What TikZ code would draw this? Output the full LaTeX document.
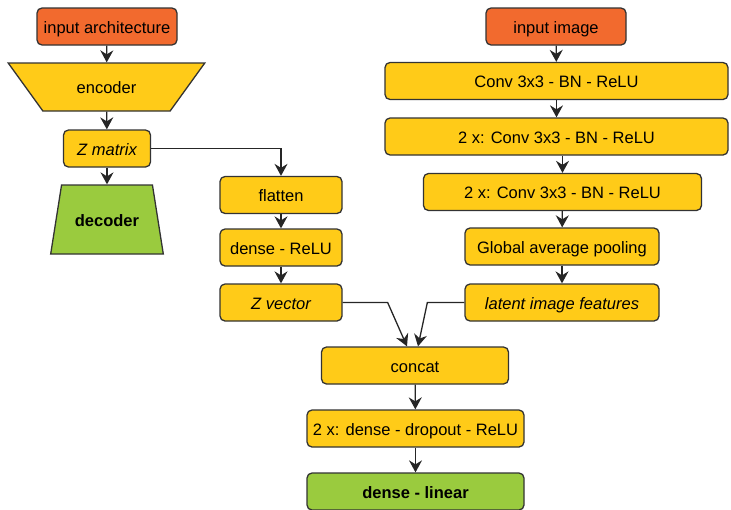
\documentclass[tikz,border=0pt]{standalone}
\usepackage{fontspec}
\setmainfont{Liberation Sans}
\usepackage{tikz}
\usetikzlibrary{shapes.geometric,arrows.meta}
\definecolor{boxorange}{RGB}{242,106,46}
\definecolor{boxyellow}{RGB}{255,203,24}
\definecolor{boxgreen}{RGB}{154,203,62}
\definecolor{boxline}{RGB}{51,51,51}
\tikzstyle{block} = [draw=boxline, line width=1.3pt, rounded corners=5pt, fill=boxyellow, minimum height=37pt, inner sep=2pt, text centered, text height=15pt, text depth=1.8pt]
\tikzstyle{inblock} = [block, fill=boxorange]
\tikzstyle{outblock} = [block, fill=boxgreen, execute at begin node=\bfseries]
\tikzstyle{trap} = [draw=boxline, line width=1.3pt, fill=boxyellow, trapezium, trapezium stretches=true, inner sep=2pt, text height=15pt, text depth=1.8pt]
\tikzstyle{link} = [draw=black!85, line width=1.3pt, -{Stealth[length=12pt,width=13pt,inset=4pt]}]

\begin{document}
\begin{tikzpicture}[x=1pt, y=-1pt, font=\fontsize{16.5}{19}\selectfont]
    \useasboundingbox (0,0) rectangle (731,509);
    % architecture branch
    \node[inblock, minimum width=140pt] (inarch) at (107,26.5) {input architecture};
    \node[trap, shape border rotate=180, trapezium left angle=50.2, trapezium right angle=50.2,
          minimum width=198pt, minimum height=48pt] (enc) at (106.5,87) {encoder};
    \node[block, minimum width=87pt] (zmat) at (107,148.5) {\itshape Z matrix};
    \node[trap, fill=boxgreen, execute at begin node=\bfseries, trapezium left angle=68.6, trapezium right angle=68.6,
          minimum width=113pt, minimum height=69pt] (dec) at (107,219.5) {decoder};
    \node[block, minimum width=122pt] (flat) at (281,195) {flatten};
    \node[block, minimum width=122pt] (dense) at (281,247.5) {dense - ReLU};
    \node[block, minimum width=122pt] (zvec) at (281,302.5) {\itshape Z vector};
    % image branch
    \node[inblock, minimum width=140pt] (inimg) at (556,26.5) {input image};
    \node[block, minimum width=343pt] (conv1) at (556.5,81) {Conv 3x3 - BN - ReLU};
    \node[block, minimum width=343pt] (conv2) at (556.5,136.5) {2 x: Conv 3x3 - BN - ReLU};
    \node[block, minimum width=278pt] (conv3) at (562.5,192) {2 x: Conv 3x3 - BN - ReLU};
    \node[block, minimum width=194pt] (gap) at (562,246.5) {Global average pooling};
    \node[block, minimum width=194pt] (lat) at (562,302.5) {\itshape latent image features};
    % head
    \node[block, minimum width=187pt] (concat) at (415,365.5) {concat};
    \node[block, minimum width=217pt] (dd) at (415.5,428.5) {2 x: dense - dropout - ReLU};
    \node[outblock, minimum width=217pt] (lin) at (415.5,491.5) {dense - linear};

    \draw[link] (inarch) -- (enc);
    \draw[link] (enc) -- (zmat);
    \draw[link] (zmat) -- (dec);
    \draw[link] (zmat.east) -| (flat.north);
    \draw[link] (flat) -- (dense);
    \draw[link] (dense) -- (zvec);
    \draw[link] (inimg) -- (conv1);
    \draw[link] (conv1) -- (conv2);
    \draw[link] (conv3.north |- conv2.south) -- (conv3.north);
    \draw[link] (conv3) -- (gap);
    \draw[link] (gap) -- (lat);
    \draw[link] (zvec.east) -- ++(45,0) -- ([xshift=-8pt]concat.north);
    \draw[link] (lat.west) -- ++(-37,0) -- ([xshift=3pt]concat.north);
    \draw[link] (concat) -- (dd);
    \draw[link] (dd) -- (lin);
\end{tikzpicture}
\end{document}
